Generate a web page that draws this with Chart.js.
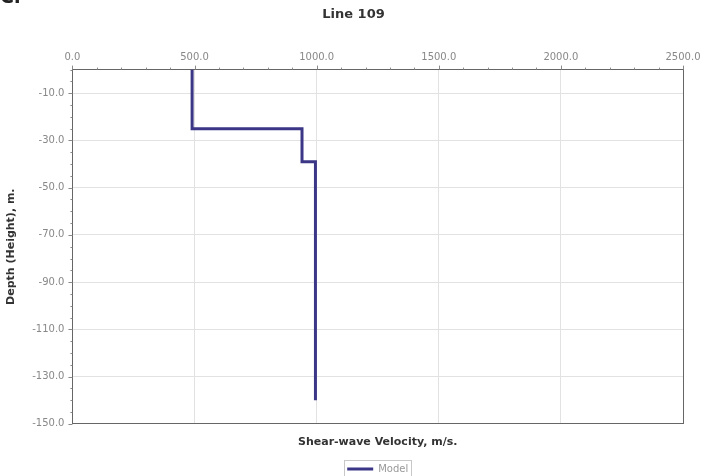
<!DOCTYPE html>
<html>
<head>
<meta charset="utf-8">
<script src="https://cdn.jsdelivr.net/npm/chart.js@4"></script>
<style>
  html, body { margin: 0; padding: 0; background: #fff; overflow: hidden; }
  #wrap { position: relative; width: 707px; height: 476px; }
  #tag { position: absolute; left: 0px; top: -15px; font: bold 19px "DejaVu Sans", sans-serif; color: #222; }
  canvas { position: absolute; left: 0; top: 0; }
</style>
</head>
<body>
<div id="wrap">
  <canvas id="c" width="707" height="476"></canvas>
  <div id="tag">Cr</div>
</div>
<script>
// Shear-wave velocity profile for Line 109 (step model)
const velocity = [490, 490, 940, 940, 995, 995];
const depth    = [0, -25, -25, -39, -39, -140];
const xTicks   = [0, 500, 1000, 1500, 2000, 2500];
const yTicks   = [-150, -130, -110, -90, -70, -50, -30, -10];
const seriesName = 'Model';

const points = velocity.map((v, i) => ({ x: v, y: depth[i] }));
const FONT = '"DejaVu Sans", Verdana, sans-serif';
const lineColor = '#3b3686';

// centre the title on the canvas, the legend under the plot area, and sit the legend on the bottom edge
const placeBlocks = {
  id: 'placeBlocks',
  afterLayout(chart) {
    const a = chart.chartArea;
    const t = chart.titleBlock;
    if (t) {
      const tdx = chart.width / 2 - (t.left + t.right) / 2;
      t.left += tdx; t.right += tdx;
    }
    const lg = chart.legend;
    if (lg) {
      const dx = (a.left + a.right) / 2 - (lg.left + lg.right) / 2;
      const dy = 8;
      lg.left += dx; lg.right += dx;
      lg.top += dy; lg.bottom += dy;
    }
  }
};

// minor tick marks along the top and left axes, plus a frame round the legend
const extras = {
  id: 'extras',
  afterDraw(chart) {
    const ctx = chart.ctx;
    const a = chart.chartArea;
    const xs = chart.scales.x, ys = chart.scales.y;
    ctx.save();
    ctx.strokeStyle = '#8a8a8a';
    ctx.lineWidth = 1;
    ctx.beginPath();
    for (let v = 0; v <= 2500; v += 100) {
      const px = Math.round(xs.getPixelForValue(v)) + 0.5;
      const len = (v % 500 === 0) ? 4 : 2;
      ctx.moveTo(px, a.top); ctx.lineTo(px, a.top - len);
    }
    for (let v = -150; v <= 0; v += 5) {
      const py = Math.round(ys.getPixelForValue(v)) + 0.5;
      const len = ((v + 150) % 20 === 0) ? 4 : 2;
      ctx.moveTo(a.left, py); ctx.lineTo(a.left - len, py);
    }
    ctx.stroke();
    const boxes = chart.legend && chart.legend.legendHitBoxes;
    if (boxes && boxes.length) {
      const b = boxes[0];
      ctx.strokeStyle = '#c8c8c8';
      ctx.strokeRect(Math.round(b.left) - 2.5, Math.round(b.top) - 3.5, Math.round(b.width) + 6, Math.round(b.height) + 7);
    }
    ctx.restore();
  }
};

new Chart(document.getElementById('c'), {
  type: 'scatter',
  data: {
    datasets: [{
      label: seriesName,
      data: points,
      showLine: true,
      borderColor: lineColor,
      backgroundColor: lineColor,
      borderWidth: 3,
      pointRadius: 0,
      tension: 0
    }]
  },
  options: {
    responsive: false,
    animation: false,
    layout: { padding: { left: 5, right: 24, top: 0, bottom: 0 } },
    plugins: {
      title: {
        display: true,
        text: 'Line 109',
        color: '#333',
        font: { family: FONT, size: 13, weight: 'bold' },
        padding: { top: 7, bottom: 23 }
      },
      legend: {
        position: 'bottom',
        labels: {
          boxWidth: 26,
          boxHeight: 3,
          color: '#999',
          font: { family: FONT, size: 10 },
          padding: 0,
          generateLabels: chart => chart.data.datasets.map((ds, i) => ({
            text: ds.label,
            fillStyle: ds.borderColor,
            strokeStyle: ds.borderColor,
            lineWidth: 0,
            fontColor: '#999',
            datasetIndex: i
          }))
        }
      },
      tooltip: { enabled: false }
    },
    scales: {
      x: {
        type: 'linear',
        position: 'top',
        min: 0, max: 2500,
        afterBuildTicks: s => { s.ticks = xTicks.map(v => ({ value: v })); },
        ticks: {
          color: '#888',
          font: { family: FONT, size: 10 },
          padding: 6,
          maxRotation: 0,
          callback: v => v.toFixed(1)
        },
        grid: { color: '#e2e2e2', drawTicks: false },
        border: { color: '#666', width: 1 }
      },
      x2: {
        type: 'linear',
        position: 'bottom',
        min: 0, max: 2500,
        ticks: { display: false },
        grid: { display: false, drawTicks: false },
        border: { display: true, color: '#666', width: 1 },
        title: {
          display: true,
          text: 'Shear-wave Velocity, m/s.',
          color: '#333',
          font: { family: FONT, size: 11, weight: 'bold' },
          padding: { top: 12, bottom: 7 }
        }
      },
      y: {
        type: 'linear',
        min: -150, max: 0,
        afterBuildTicks: s => { s.ticks = yTicks.map(v => ({ value: v })); },
        ticks: {
          color: '#888',
          font: { family: FONT, size: 10 },
          padding: 8,
          callback: v => v.toFixed(1)
        },
        grid: { color: '#e2e2e2', drawTicks: false },
        border: { color: '#666', width: 1 },
        title: {
          display: true,
          text: 'Depth (Height), m.',
          color: '#333',
          font: { family: FONT, size: 11, weight: 'bold' },
          padding: { top: 0, bottom: 6 }
        }
      },
      y2: {
        type: 'linear',
        position: 'right',
        min: -150, max: 0,
        ticks: { display: false },
        grid: { display: false, drawTicks: false },
        border: { display: true, color: '#666', width: 1 }
      }
    }
  },
  plugins: [placeBlocks, extras]
});
</script>
</body>
</html>
